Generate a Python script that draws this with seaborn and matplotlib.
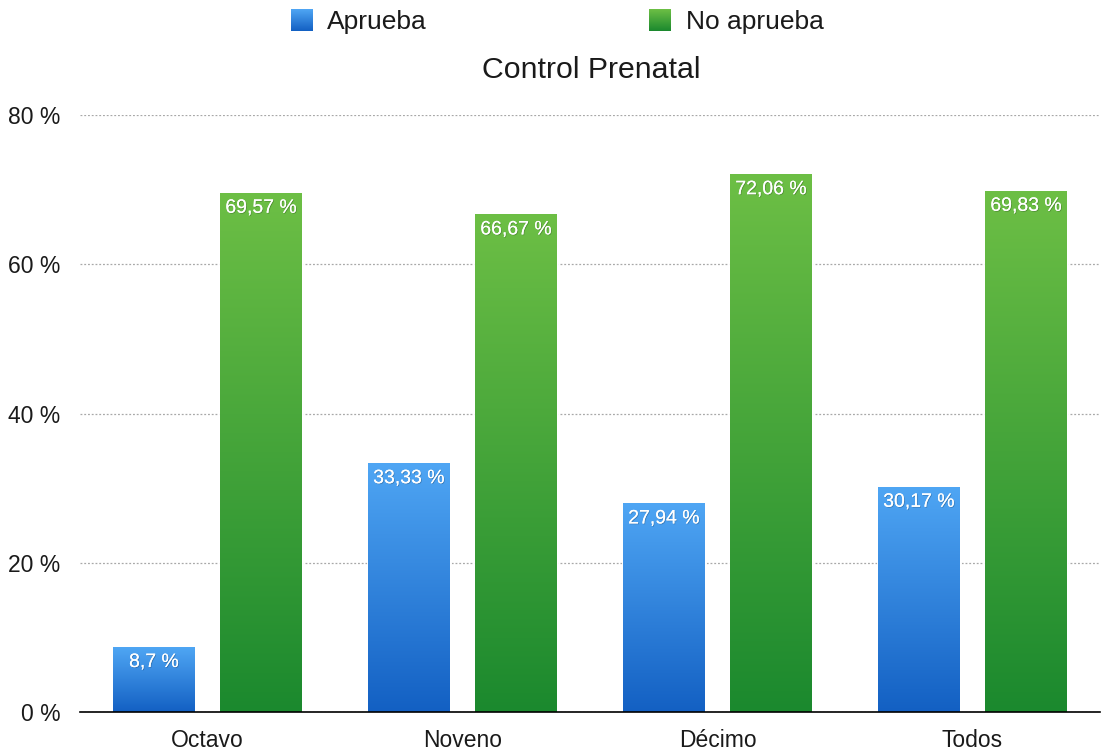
import numpy as np
import pandas as pd
import matplotlib
matplotlib.use("Agg")
import matplotlib.pyplot as plt
import matplotlib.patheffects as pe
from matplotlib.colors import to_rgb
from matplotlib.legend_handler import HandlerBase
from matplotlib.image import BboxImage
from matplotlib.transforms import Bbox, TransformedBbox
from matplotlib.patches import Patch
import seaborn as sns

# Data
categories = ["Octavo", "Noveno", "Décimo", "Todos"]
aprueba = [8.7, 33.33, 27.94, 30.17]
no_aprueba = [69.57, 66.67, 72.06, 69.83]
series_names = ["Aprueba", "No aprueba"]
y_ticks = [0, 20, 40, 60, 80]

# Gradient colours (top, bottom) for each series
grad_colors = {
    "Aprueba": ("#4fa6f4", "#1360c3"),
    "No aprueba": ("#6dbf45", "#1b892e"),
}

df = pd.DataFrame({
    "Curso": categories * 2,
    "Resultado": [series_names[0]] * len(categories) + [series_names[1]] * len(categories),
    "Porcentaje": aprueba + no_aprueba,
})

sns.set_theme(style="white")
plt.rcParams["font.family"] = ["Liberation Sans", "DejaVu Sans"]


def gradient_rgb(top, bottom, n=256):
    t = np.linspace(0, 1, n)[:, None]
    c_top = np.array(to_rgb(top))
    c_bot = np.array(to_rgb(bottom))
    arr = c_top * (1 - t) + c_bot * t
    return arr[:, None, :]


W, H = 1103, 753
fig = plt.figure(figsize=(W / 100, H / 100), dpi=100)
ax = fig.add_axes([80 / W, (H - 712) / H, (1100 - 80) / W, (712 - 115) / H])

mid_colors = [grad_colors[s][1] for s in series_names]
sns.barplot(data=df, x="Curso", y="Porcentaje", hue="Resultado",
            hue_order=series_names, order=categories, palette=mid_colors,
            width=0.84, gap=0.24, ax=ax, legend=False, zorder=2)

# Fill each bar with a vertical gradient and add the value label
for container, name in zip(ax.containers, series_names):
    top, bottom = grad_colors[name]
    img = gradient_rgb(top, bottom)
    for patch, val in zip(container.patches, df.loc[df.Resultado == name, "Porcentaje"]):
        x0, y0 = patch.get_x(), patch.get_y()
        w, h = patch.get_width(), patch.get_height()
        patch.set_edgecolor("white")
        patch.set_linewidth(2.0)
        im = ax.imshow(img, extent=(x0, x0 + w, y0, y0 + h), aspect="auto",
                       origin="upper", zorder=2.5, interpolation="bicubic")
        im.set_clip_path(patch)
        label = f"{val:g}".replace(".", ",") + " %"
        ax.annotate(label, (x0 + w / 2, y0 + h), xytext=(0, -5),
                    textcoords="offset points", ha="center", va="top",
                    color="white", fontsize=14, zorder=4,
                    path_effects=[pe.withSimplePatchShadow(offset=(0.6, -0.6),
                                                           shadow_rgbFace="black",
                                                           alpha=0.22),
                                  pe.Normal()])

ax.set_xlim(-0.5, len(categories) - 0.5)
ax.set_ylim(0, 80)
ax.set_yticks(y_ticks)
ax.set_yticklabels([f"{v} %" for v in y_ticks])
ax.set_xlabel("")
ax.set_ylabel("")
ax.tick_params(axis="y", length=0, pad=14, labelsize=16.5, labelcolor="#1a1a1a")
ax.tick_params(axis="x", length=0, pad=12, labelsize=16.5, labelcolor="#1a1a1a")

ax.set_axisbelow(True)
ax.yaxis.grid(True, linestyle=(0, (1.5, 1.5)), color="#a8a8a8", linewidth=0.9)
ax.xaxis.grid(False)
for side in ["left", "right", "top"]:
    ax.spines[side].set_visible(False)
ax.spines["bottom"].set_color("black")
ax.spines["bottom"].set_linewidth(1.2)
ax.spines["bottom"].set_zorder(5)

fig.text(591 / W, 1 - 70 / H, "Control Prenatal", ha="center", va="center",
         fontsize=21.8, color="#1a1a1a")


class GradientHandler(HandlerBase):
    def __init__(self, top, bottom):
        super().__init__()
        self.img = gradient_rgb(top, bottom, 64)

    def create_artists(self, legend, orig_handle, xdescent, ydescent,
                       width, height, fontsize, trans):
        bb = TransformedBbox(Bbox.from_bounds(-xdescent, -ydescent - 1, width, height + 1), trans)
        im = BboxImage(bb, interpolation="bicubic", origin="upper")
        im.set_data(self.img)
        return [im]


handles = [Patch(label=s) for s in series_names]
handler_map = {h: GradientHandler(*grad_colors[s]) for h, s in zip(handles, series_names)}
fig.legend(handles=handles, labels=series_names, handler_map=handler_map,
           loc="center", bbox_to_anchor=(557 / W, 1 - 22 / H), ncol=2,
           frameon=False, fontsize=19, handlelength=0.8, handleheight=0.8,
           handletextpad=0.57, columnspacing=8.45, labelcolor="#1a1a1a")

fig.savefig("out.png", dpi=100)
